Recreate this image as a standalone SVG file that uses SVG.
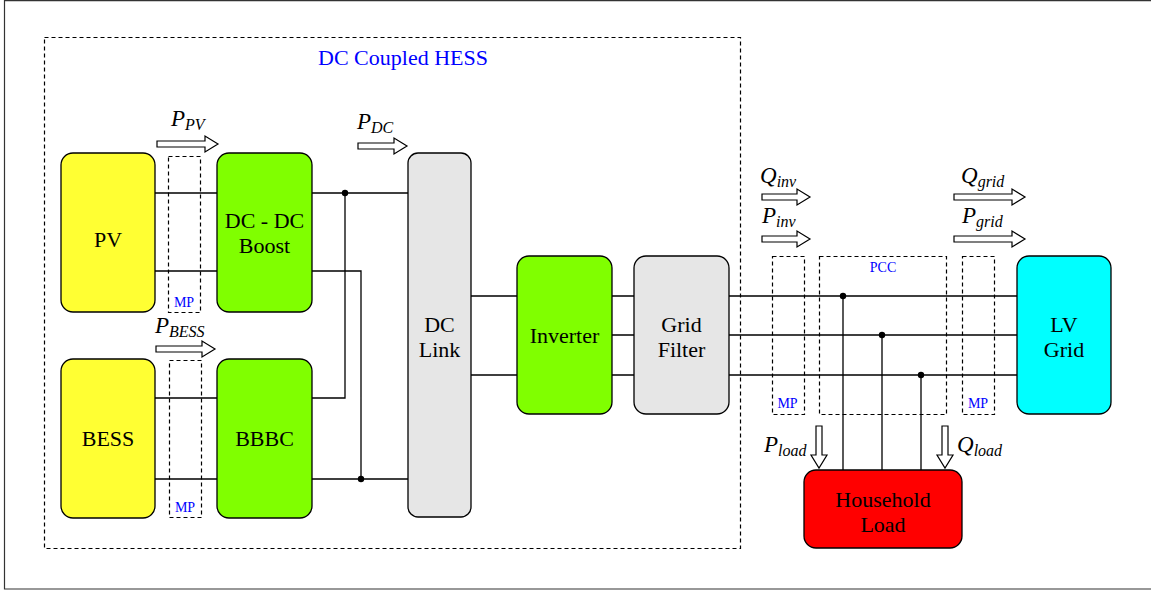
<svg xmlns="http://www.w3.org/2000/svg" width="1151" height="590" viewBox="0 0 1151 590">
<style>
.node{stroke:#000;stroke-width:1.3}
text{font-family:'Liberation Serif','Times New Roman',Times,serif}
.lbl{font-size:22px;fill:#000;text-anchor:middle}
.blue{fill:#0000ff;text-anchor:middle}
.math{font-style:italic;font-size:23px;fill:#000}
.sub{font-size:16px}
.wire{stroke:#000;stroke-width:1.3;fill:none}
.dash{stroke:#000;stroke-width:1.2;fill:none;stroke-dasharray:4 3}
.harrow{fill:#fff;stroke:#000;stroke-width:1.2}
</style>
<rect width="1151" height="590" fill="#fff"/>
<path d="M1151,0.7 H4.5 V589 H1151" fill="none" stroke="#333" stroke-width="1.2"/>

<g id="hess">
<rect class="dash" x="44.5" y="37.5" width="696" height="511"/>
<text class="blue" x="403" y="65" style="font-size:22px">DC Coupled HESS</text>
</g>

<g id="connectors">
<path class="wire" d="M155,193 H217 M155,271 H217 M155,398 H217 M155,479 H217"/>
<path class="wire" d="M312,193 H408 M312,271 H361 V479 M312,398 H345 V193 M312,479 H408"/>
<path class="wire" d="M471,296 H517 M471,375 H517"/>
<path class="wire" d="M612,296 H634 M612,335 H634 M612,375 H634"/>
<path class="wire" d="M729,296 H1017 M729,335 H1017 M729,375 H1017"/>
<path class="wire" d="M843,296 V470 M882,335 V470 M921,375 V470"/>
<circle cx="345" cy="193" r="3.2"/>
<circle cx="361" cy="479" r="3.2"/>
<circle cx="843" cy="296" r="3.2"/>
<circle cx="882" cy="335" r="3.2"/>
<circle cx="921" cy="375" r="3.2"/>
</g>

<g id="pv">
<rect class="node" x="61" y="153" width="94" height="159" rx="12" fill="#ffff33"/>
<text class="lbl" x="108" y="247">PV</text>
</g>
<g id="bess">
<rect class="node" x="61" y="359" width="94" height="159" rx="12" fill="#ffff33"/>
<text class="lbl" x="108" y="446">BESS</text>
</g>
<g id="dcdc">
<rect class="node" x="217" y="153" width="95" height="159" rx="12" fill="#80ff00"/>
<text class="lbl" x="264.5" y="228">DC - DC</text>
<text class="lbl" x="264.5" y="253">Boost</text>
</g>
<g id="bbbc">
<rect class="node" x="217" y="359" width="95" height="159" rx="12" fill="#80ff00"/>
<text class="lbl" x="264.5" y="446">BBBC</text>
</g>
<g id="dclink">
<rect class="node" x="408" y="153" width="63" height="364" rx="10" fill="#e6e6e6"/>
<text class="lbl" x="439.5" y="332">DC</text>
<text class="lbl" x="439.5" y="357">Link</text>
</g>
<g id="inverter">
<rect class="node" x="517" y="256" width="95" height="158" rx="12" fill="#80ff00"/>
<text class="lbl" x="564.5" y="343">Inverter</text>
</g>
<g id="filter">
<rect class="node" x="634" y="256" width="95" height="158" rx="12" fill="#e6e6e6"/>
<text class="lbl" x="681.5" y="332">Grid</text>
<text class="lbl" x="681.5" y="357">Filter</text>
</g>
<g id="lvgrid">
<rect class="node" x="1017" y="256" width="94" height="158" rx="12" fill="#00ffff"/>
<text class="lbl" x="1064" y="332">LV</text>
<text class="lbl" x="1064" y="357">Grid</text>
</g>
<g id="load">
<rect class="node" x="804" y="470" width="158" height="78" rx="12" fill="#ff0000"/>
<text class="lbl" x="883" y="507">Household</text>
<text class="lbl" x="883" y="532">Load</text>
</g>

<g id="mp1">
<rect class="dash" x="168.5" y="156.5" width="32" height="156"/>
<text class="blue" x="184" y="307" style="font-size:14px">MP</text>
</g>
<g id="mp2">
<rect class="dash" x="169.5" y="360.5" width="32" height="157"/>
<text class="blue" x="185" y="512" style="font-size:14px">MP</text>
</g>
<g id="mp3">
<rect class="dash" x="772.5" y="256.5" width="32" height="158"/>
<text class="blue" x="787.5" y="408" style="font-size:14px">MP</text>
</g>
<g id="pcc">
<rect class="dash" x="819.5" y="256.5" width="127" height="158"/>
<text class="blue" x="883" y="272" style="font-size:14px">PCC</text>
</g>
<g id="mp4">
<rect class="dash" x="962.5" y="256.5" width="32" height="158"/>
<text class="blue" x="978" y="408" style="font-size:14px">MP</text>
</g>

<g id="flows">
<path class="harrow" d="M157,141 H205 V136 L218,144 L205,152 V147 H157 Z"/>
<path class="harrow" d="M358,143 H394 V138 L407,146 L394,154 V149 H358 Z"/>
<path class="harrow" d="M156,346 H202 V341 L215,349 L202,357 V352 H156 Z"/>
<path class="harrow" d="M762,194 H797 V189 L810,197 L797,205 V200 H762 Z"/>
<path class="harrow" d="M762,236 H797 V231 L810,239 L797,247 V242 H762 Z"/>
<path class="harrow" d="M954,194 H1012 V189 L1025,197 L1012,205 V200 H954 Z"/>
<path class="harrow" d="M954,236 H1012 V231 L1025,239 L1012,247 V242 H954 Z"/>
<path class="harrow" d="M816,426 V455 H811 L819,468 L827,455 H822 V426 Z"/>
<path class="harrow" d="M942,426 V455 H937 L945,468 L953,455 H948 V426 Z"/>
<text class="math" x="171" y="126">P<tspan class="sub" dy="4">PV</tspan></text>
<text class="math" x="357" y="129">P<tspan class="sub" dy="4">DC</tspan></text>
<text class="math" x="155" y="333">P<tspan class="sub" dy="4">BESS</tspan></text>
<text class="math" x="760" y="183">Q<tspan class="sub" dy="4">inv</tspan></text>
<text class="math" x="762" y="223">P<tspan class="sub" dy="4">inv</tspan></text>
<text class="math" x="961" y="183">Q<tspan class="sub" dy="4">grid</tspan></text>
<text class="math" x="962" y="223">P<tspan class="sub" dy="4">grid</tspan></text>
<text class="math" x="764" y="452">P<tspan class="sub" dy="4">load</tspan></text>
<text class="math" x="957" y="452">Q<tspan class="sub" dy="4">load</tspan></text>
</g>
</svg>
